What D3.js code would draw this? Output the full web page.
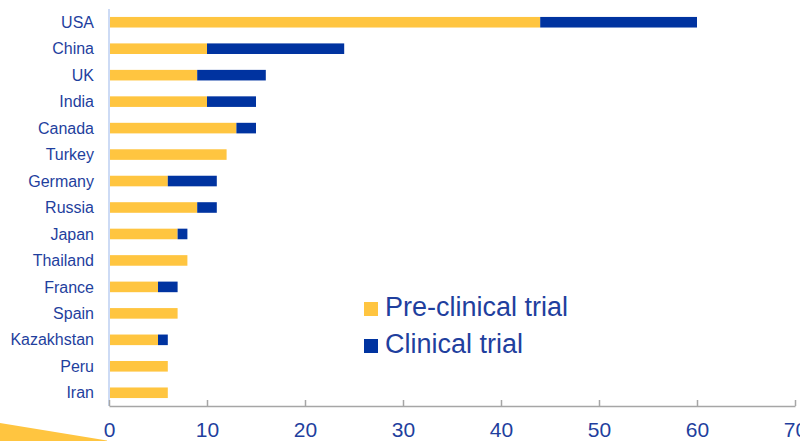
<!DOCTYPE html>
<html>
<head>
<meta charset="utf-8">
<script src="https://cdn.jsdelivr.net/npm/d3@7"></script>
<style>
  body { margin: 0; background: #fff; }
  svg { display: block; font-family: "Liberation Sans", Arial, sans-serif; }
</style>
</head>
<body>
<div id="chart"></div>
<script>
var countries = ["USA", "China", "UK", "India", "Canada", "Turkey", "Germany", "Russia",
                 "Japan", "Thailand", "France", "Spain", "Kazakhstan", "Peru", "Iran"];
var preclinical = [44, 10, 9, 10, 13, 12, 6, 9, 7, 8, 5, 7, 5, 6, 6];
var clinical    = [16, 14, 7, 5, 2, 0, 5, 2, 1, 0, 2, 0, 1, 0, 0];
var xTicks = [0, 10, 20, 30, 40, 50, 60, 70];
var seriesNames = ["Pre-clinical trial", "Clinical trial"];
var colors = ["#ffc540", "#0033a0"];
var textColor = "#1f3f9e";

var width = 800, height = 441;
var margin = {top: 9, right: 5, bottom: 35, left: 109};

var svg = d3.select("#chart").append("svg")
    .attr("width", width).attr("height", height);

// deco wedge bottom left
svg.append("path")
    .attr("d", "M0,423 L107,440.5 L107,441 L0,441 Z")
    .attr("fill", colors[0]);

var x = d3.scaleLinear().domain([0, 70]).range([margin.left, width - margin.right]);
var y = d3.scaleBand().domain(countries)
    .range([margin.top, height - margin.bottom])
    .paddingInner(0.6).paddingOuter(0.3);

var dados = countries.map(function(c, i){
    return {country: c, pre: preclinical[i], cli: clinical[i]};
});

// vertical axis line
svg.append("line")
    .attr("x1", x(0)).attr("x2", x(0))
    .attr("y1", margin.top).attr("y2", height - margin.bottom)
    .attr("stroke", "#cddbf5").attr("stroke-width", 2);

var g = svg.append("g");
g.selectAll("rect.pre").data(dados).enter().append("rect")
    .attr("class", "pre")
    .attr("x", function(d){ return x(0) + 1; })
    .attr("y", function(d){ return y(d.country); })
    .attr("width", function(d){ return x(d.pre) - x(0) - 1; })
    .attr("height", y.bandwidth())
    .attr("fill", colors[0]);

g.selectAll("rect.cli").data(dados.filter(function(d){ return d.cli > 0; })).enter().append("rect")
    .attr("class", "cli")
    .attr("x", function(d){ return x(d.pre); })
    .attr("y", function(d){ return y(d.country); })
    .attr("width", function(d){ return x(d.pre + d.cli) - x(d.pre); })
    .attr("height", y.bandwidth())
    .attr("fill", colors[1]);

// country labels
svg.selectAll("text.cat").data(countries).enter().append("text")
    .attr("class", "cat")
    .attr("x", 94)
    .attr("y", function(d){ return y(d) + y.bandwidth() / 2; })
    .attr("dy", "0.35em")
    .attr("text-anchor", "end")
    .attr("font-size", 16)
    .attr("fill", textColor)
    .text(function(d){ return d; });

// x axis
var xAxis = svg.append("g")
    .attr("transform", "translate(0," + (height - margin.bottom) + ")")
    .call(d3.axisBottom(x).tickValues(xTicks).tickSize(-6).tickPadding(16).tickSizeOuter(0));
xAxis.select(".domain").attr("stroke", "#a6a6a6").attr("stroke-width", 1.5);
xAxis.selectAll(".tick line").attr("stroke", "#a6a6a6").attr("stroke-width", 1.5);
xAxis.selectAll(".tick text")
    .attr("font-size", 21)
    .attr("font-family", "Liberation Sans, Arial, sans-serif")
    .attr("fill", textColor);

// legend
var legend = svg.append("g");
seriesNames.forEach(function(name, i){
    var ly = 302 + i * 37;
    legend.append("rect")
        .attr("x", 364).attr("y", ly)
        .attr("width", 14).attr("height", 14)
        .attr("fill", colors[i]);
    legend.append("text")
        .attr("x", 385).attr("y", ly + 14)
        .attr("font-size", 27)
        .attr("fill", textColor)
        .text(name);
});
</script>
</body>
</html>
